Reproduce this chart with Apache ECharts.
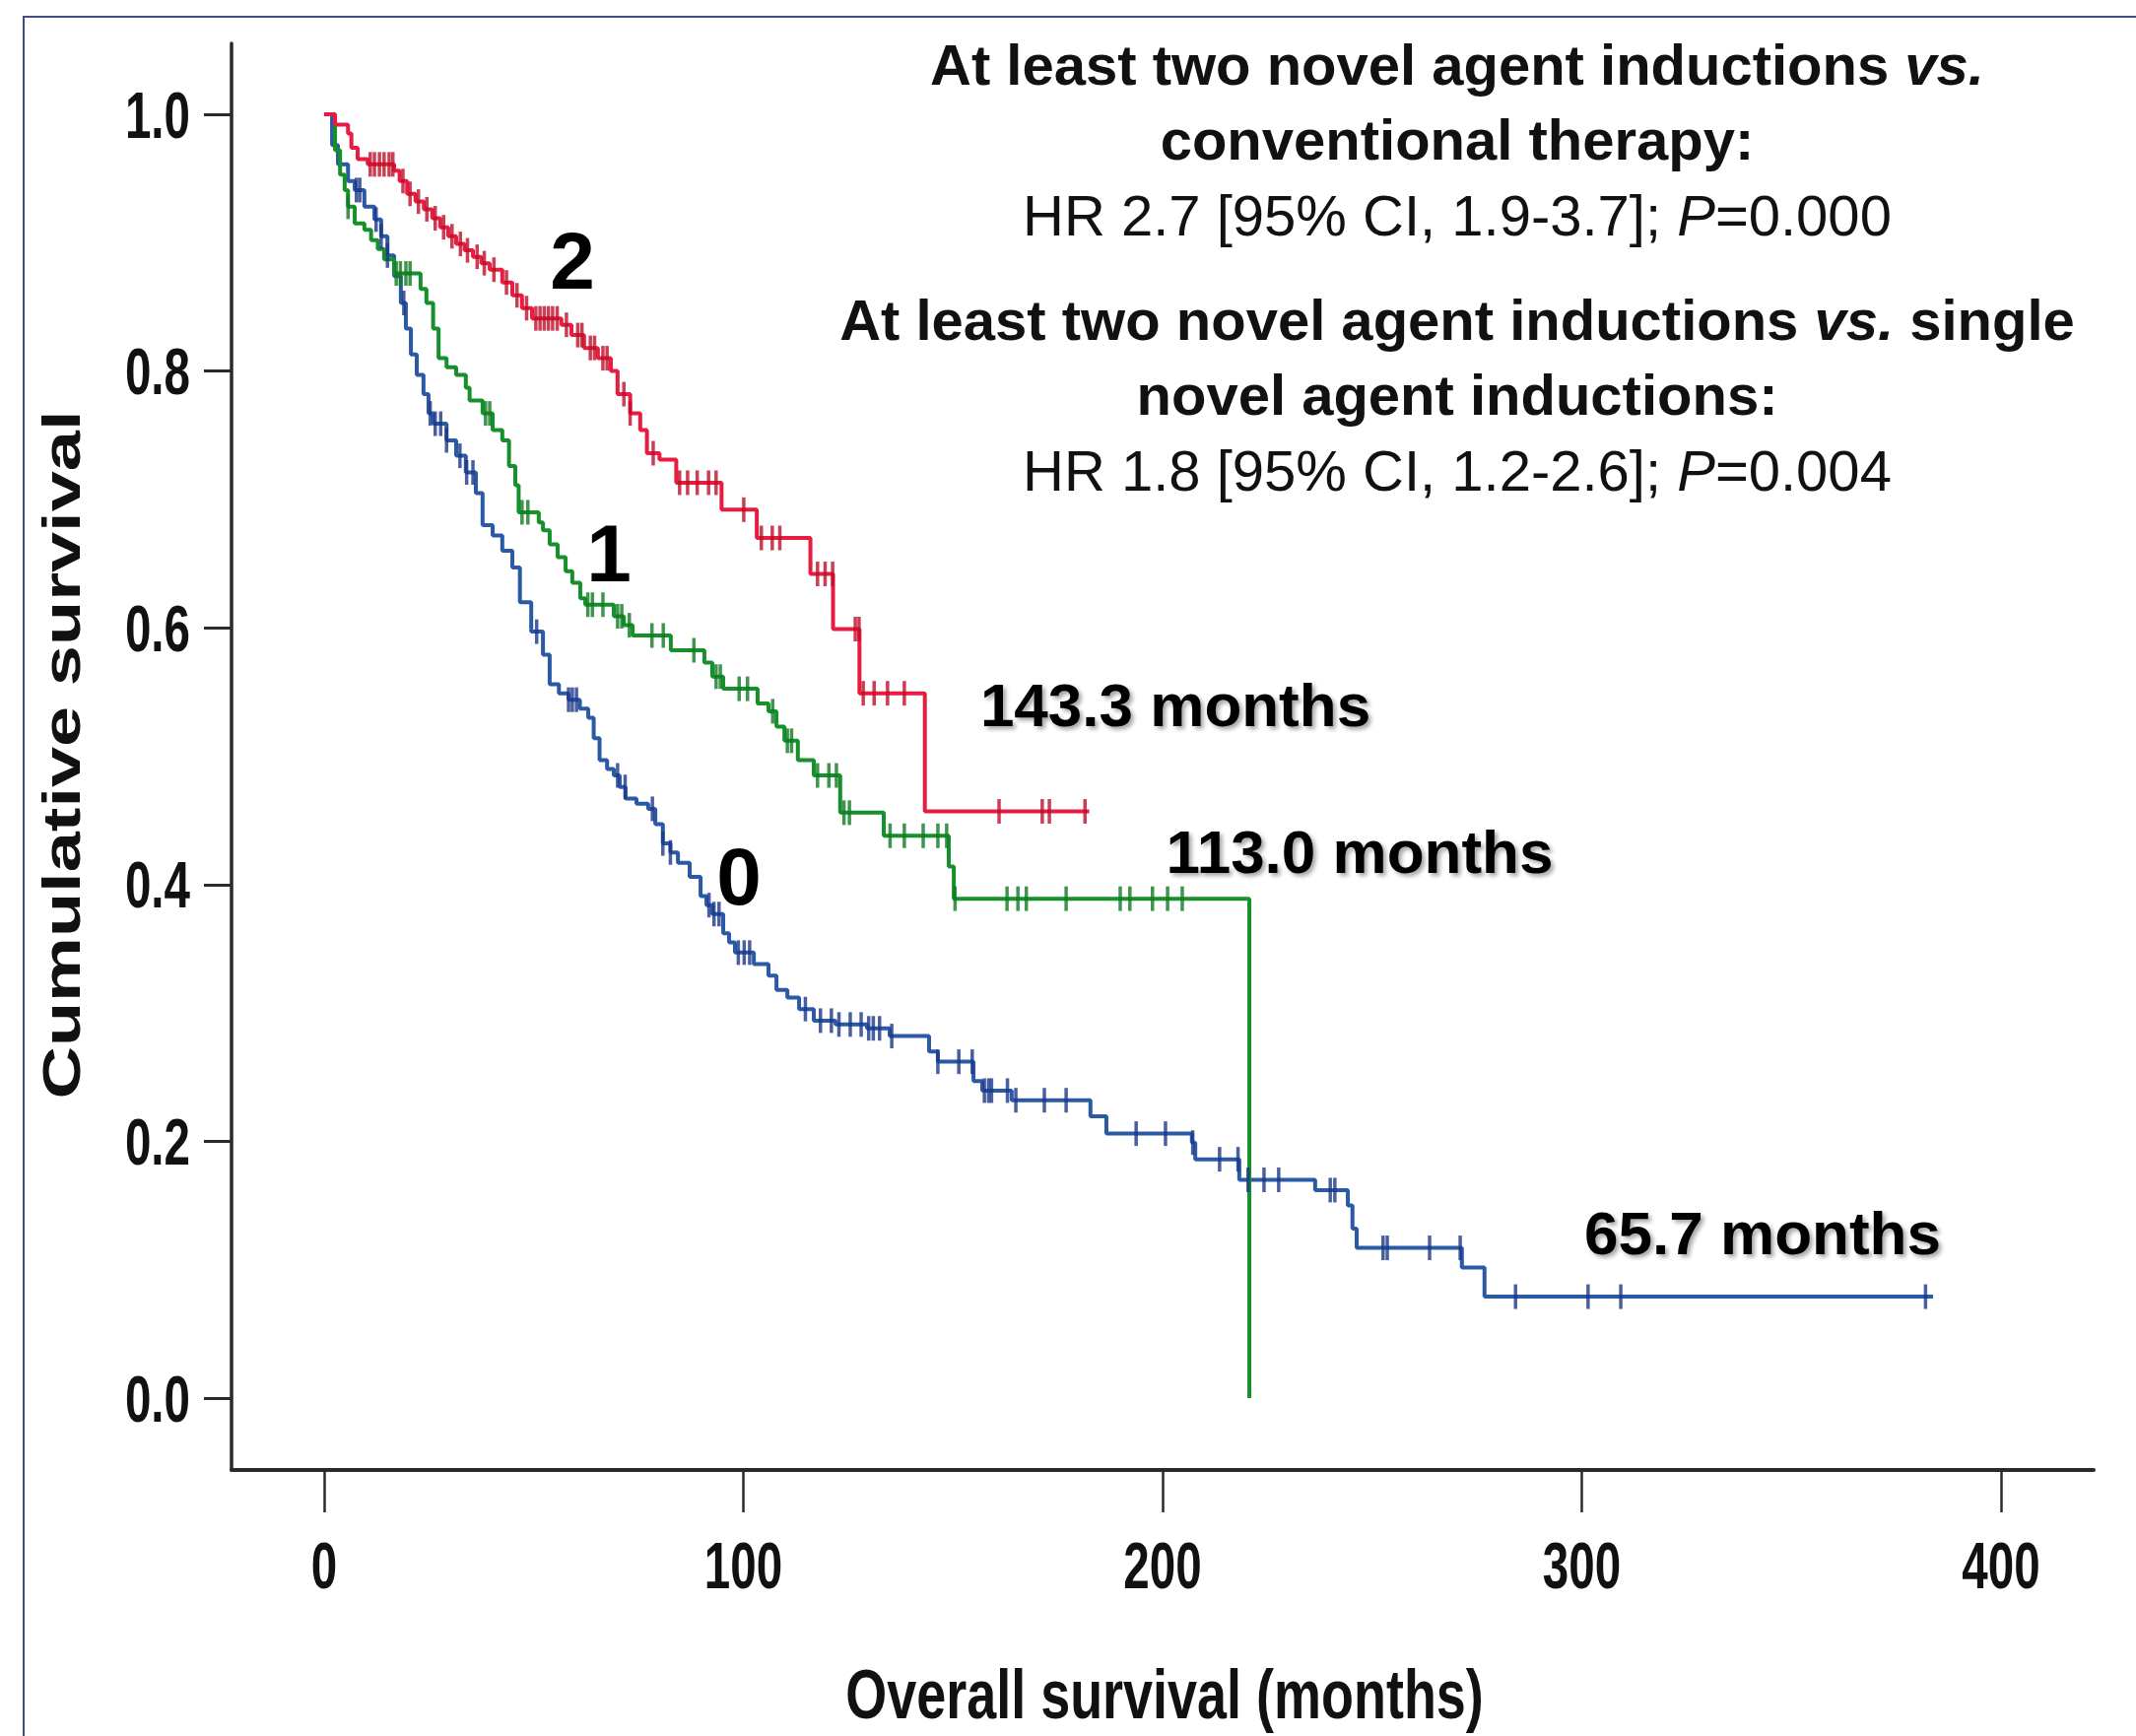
<!DOCTYPE html>
<html>
<head>
<meta charset="utf-8">
<title>Overall survival by novel agent inductions</title>
<script src="https://cdn.jsdelivr.net/npm/echarts@6/dist/echarts.min.js"></script>
<style>
  html, body { margin: 0; padding: 0; background: #ffffff; }
  #chart { width: 2168px; height: 1762px; }
</style>
</head>
<body>
<div id="chart"></div>
<script>
// Kaplan–Meier overall survival, grouped by number of novel agent inductions (0, 1, >=2)

const xTicks = [0, 100, 200, 300, 400];
const xTickLabels = ['0', '100', '200', '300', '400'];
const yTicks = [0, 0.2, 0.4, 0.6, 0.8, 1.0];
const yTickLabels = ['0.0', '0.2', '0.4', '0.6', '0.8', '1.0'];

// Group 0: conventional therapy (event times in months, survival after each step)
const conventionalTimes = [0, 1.9, 3.3, 5.7, 7.3, 9.6, 12.0, 13.6, 15.1, 16.7, 18.3, 19.5, 20.7, 22.1, 23.7, 24.9, 26.0, 29.2, 31.5, 33.8, 36.2, 37.8, 40.2, 42.5, 44.9, 46.7, 49.4, 52.2, 53.8, 56.0, 58.3, 61.0, 63.0, 64.3, 65.7, 67.5, 69.1, 70.5, 71.9, 74.5, 77.3, 79.0, 80.8, 82.6, 84.4, 87.2, 89.8, 91.2, 92.6, 95.2, 96.6, 98.0, 102.5, 106.0, 107.9, 110.5, 113.3, 116.8, 122.0, 129.5, 134.9, 144.3, 146.4, 154.9, 157.0, 164.0, 182.8, 186.6, 207.0, 207.8, 218.3, 236.4, 244.2, 245.3, 246.3, 271.4, 276.8, 383.8];
const conventionalSurv = [1.0, 0.976, 0.961, 0.948, 0.941, 0.928, 0.918, 0.905, 0.890, 0.874, 0.853, 0.833, 0.813, 0.797, 0.782, 0.767, 0.759, 0.746, 0.734, 0.721, 0.705, 0.680, 0.672, 0.660, 0.647, 0.620, 0.597, 0.579, 0.556, 0.549, 0.544, 0.537, 0.530, 0.514, 0.497, 0.490, 0.485, 0.476, 0.467, 0.463, 0.459, 0.447, 0.432, 0.425, 0.417, 0.406, 0.391, 0.384, 0.377, 0.362, 0.355, 0.347, 0.338, 0.329, 0.318, 0.312, 0.303, 0.294, 0.291, 0.288, 0.282, 0.270, 0.262, 0.247, 0.2395, 0.232, 0.2195, 0.206, 0.199, 0.186, 0.170, 0.162, 0.150, 0.132, 0.117, 0.1016, 0.079, 0.079];
const conventionalCensored = [7.7, 8.5, 12.4, 13.6, 15.1, 19.0, 25.3, 26.5, 27.8, 29.2, 32.4, 34.0, 35.5, 50.7, 58.3, 59.2, 60.2, 70.0, 71.8, 78.3, 80.8, 82.6, 91.8, 93.0, 94.2, 98.8, 100.2, 101.5, 114.8, 118.4, 121.0, 122.8, 125.5, 128.1, 129.9, 131.0, 132.5, 135.4, 146.4, 151.4, 154.6, 157.5, 158.5, 159.2, 163.0, 165.0, 171.8, 177.0, 193.7, 200.7, 207.2, 213.6, 218.0, 220.4, 224.2, 227.7, 240.0, 241.1, 252.6, 253.6, 263.7, 271.0, 284.2, 301.5, 309.3, 382.0];

// Group 1: single novel agent induction
const singleTimes = [0, 2.6, 3.8, 4.9, 5.7, 7.3, 9.6, 11.2, 12.8, 14.3, 16.7, 23.0, 24.4, 26.0, 27.3, 29.2, 31.5, 33.8, 34.7, 37.8, 40.2, 42.5, 44.1, 45.6, 46.4, 51.2, 52.2, 53.8, 55.7, 57.6, 59.2, 61.1, 62.3, 69.1, 71.5, 73.6, 82.7, 90.7, 92.6, 95.2, 103.4, 106.0, 107.9, 109.8, 113.0, 116.8, 123.1, 133.5, 149.0, 150.2, 220.7];
const singleSurv = [1.0, 0.972, 0.953, 0.941, 0.928, 0.915, 0.910, 0.902, 0.895, 0.887, 0.876, 0.864, 0.853, 0.833, 0.810, 0.803, 0.797, 0.787, 0.777, 0.767, 0.754, 0.746, 0.726, 0.711, 0.690, 0.682, 0.676, 0.665, 0.655, 0.644, 0.635, 0.623, 0.618, 0.609, 0.602, 0.594, 0.5825, 0.573, 0.562, 0.5525, 0.541, 0.535, 0.523, 0.512, 0.497, 0.485, 0.456, 0.438, 0.414, 0.389, 0.0];
const singleCensored = [5.7, 17.2, 18.2, 19.5, 20.5, 38.5, 39.5, 47.2, 48.6, 62.9, 64.0, 66.5, 70.0, 71.0, 72.8, 78.2, 80.9, 88.2, 93.5, 94.5, 99.0, 101.0, 107.0, 110.5, 111.5, 117.7, 120.4, 122.2, 124.0, 125.3, 135.0, 138.4, 142.9, 146.4, 148.5, 150.5, 162.9, 165.5, 167.5, 177.0, 189.9, 192.2, 197.6, 201.2, 204.7];

// Group 2: at least two novel agent inductions
const twoPlusTimes = [0, 2.6, 5.7, 6.5, 8.0, 10.4, 16.7, 18.0, 19.8, 21.8, 23.8, 25.8, 27.7, 29.6, 31.5, 33.5, 35.5, 37.5, 39.5, 42.5, 44.9, 47.2, 49.6, 56.6, 59.0, 62.0, 65.3, 68.4, 70.0, 73.0, 75.4, 77.0, 80.0, 84.0, 94.8, 103.2, 116.0, 121.4, 127.7, 143.3, 182.5];
const twoPlusSurv = [1.0, 0.992, 0.985, 0.974, 0.965, 0.961, 0.956, 0.948, 0.938, 0.932, 0.926, 0.919, 0.912, 0.905, 0.899, 0.894, 0.889, 0.884, 0.879, 0.869, 0.859, 0.849, 0.841, 0.836, 0.828, 0.818, 0.810, 0.800, 0.782, 0.767, 0.754, 0.736, 0.731, 0.713, 0.692, 0.670, 0.642, 0.599, 0.549, 0.457, 0.457];
const twoPlusCensored = [11.0, 12.0, 13.2, 14.3, 15.5, 16.4, 18.8, 20.5, 22.5, 24.5, 26.5, 28.5, 30.5, 32.5, 34.2, 36.5, 38.2, 40.5, 43.5, 46.0, 48.3, 50.5, 51.5, 52.5, 53.5, 54.5, 55.6, 57.8, 60.5, 61.5, 63.5, 64.5, 66.5, 67.5, 71.5, 73.0, 78.5, 84.8, 86.7, 89.0, 91.7, 93.5, 100.1, 104.3, 106.9, 108.7, 117.7, 119.5, 121.3, 126.7, 127.6, 128.6, 131.2, 134.4, 138.4, 161.0, 171.3, 173.0, 181.5];

const groupLabels = ['0', '1', '2'];
const medianLabels = ['65.7 months', '113.0 months', '143.3 months'];

const FONT = '"Liberation Sans", Arial, Helvetica, sans-serif';
const INK = '#111111';

// survival value of a step curve at time t
function survivalAt(times, surv, t) {
  let s = surv[0];
  for (let i = 0; i < times.length; i++) {
    if (times[i] <= t) s = surv[i]; else break;
  }
  return s;
}

function curve(times, surv, color) {
  return {
    type: 'line',
    step: 'end',
    data: times.map((t, i) => [t, surv[i]]),
    symbol: 'none',
    showSymbol: false,
    silent: true,
    lineStyle: { color: color, width: 4 },
    z: 2
  };
}

function censorMarks(times, surv, censored, color) {
  return {
    type: 'scatter',
    data: censored.map(t => [t, survivalAt(times, surv, t)]),
    symbol: 'rect',
    symbolSize: [3.5, 25],
    silent: true,
    itemStyle: { color: color },
    z: 3
  };
}

const chart = echarts.init(document.getElementById('chart'), null, { renderer: 'svg', width: 2168, height: 1762 });

const option = {
  animation: false,
  backgroundColor: '#ffffff',
  grid: { left: 235, right: 43, top: 44, bottom: 270, containLabel: false },
  xAxis: {
    type: 'value',
    min: -22.09,
    max: 422.1,
    axisLine: { show: true, onZero: false, lineStyle: { color: '#2a2a2a', width: 4 } },
    axisTick: { show: true, customValues: xTicks, length: 43, lineStyle: { color: '#2a2a2a', width: 2.5 } },
    axisLabel: { show: false },
    splitLine: { show: false }
  },
  yAxis: {
    type: 'value',
    min: -0.05602,
    max: 1.05526,
    axisLine: { show: true, onZero: false, lineStyle: { color: '#2a2a2a', width: 3.5 } },
    axisTick: { show: true, customValues: yTicks, length: 28, lineStyle: { color: '#2a2a2a', width: 3 } },
    axisLabel: { show: false },
    splitLine: { show: false }
  },
  series: [
    curve(conventionalTimes, conventionalSurv, '#2a59a6'),
    curve(singleTimes, singleSurv, '#16902b'),
    curve(twoPlusTimes, twoPlusSurv, '#e81c40'),
    censorMarks(conventionalTimes, conventionalSurv, conventionalCensored, '#1b3787'),
    censorMarks(singleTimes, singleSurv, singleCensored, '#0f7a22'),
    censorMarks(twoPlusTimes, twoPlusSurv, twoPlusCensored, '#bd0f28')
  ]
};
chart.setOption(option);

// Axis tick labels and titles are set in a condensed bold face (horizontal squeeze)
const px = v => chart.convertToPixel({ xAxisIndex: 0 }, v);
const py = v => chart.convertToPixel({ yAxisIndex: 0 }, v);
const axisX = px(option.xAxis.min);
const axisY = py(option.yAxis.min);
const tickFont = 'bold 67px ' + FONT;

const gfx = [];

// frame along the left and top edges
gfx.push({
  type: 'polyline',
  shape: { points: [[24, 1762], [24, 17], [2168, 17]] },
  style: { stroke: '#3f5183', lineWidth: 2, fill: null },
  silent: true
});

xTicks.forEach((v, i) => {
  gfx.push({
    type: 'text', x: px(v), y: axisY + 96, scaleX: 0.71,
    style: { text: xTickLabels[i], font: tickFont, fill: INK, textAlign: 'center', textVerticalAlign: 'middle' }
  });
});
yTicks.forEach((v, i) => {
  gfx.push({
    type: 'text', x: axisX - 42, y: py(v), scaleX: 0.71,
    style: { text: yTickLabels[i], font: tickFont, fill: INK, textAlign: 'right', textVerticalAlign: 'middle' }
  });
});

// axis titles
gfx.push({
  type: 'text', x: 1182, y: 1719, scaleX: 0.76,
  style: { text: 'Overall survival (months)', font: 'bold 71px ' + FONT, fill: INK, textAlign: 'center', textVerticalAlign: 'middle' }
});
gfx.push({
  type: 'text', x: 63, y: 766, rotation: Math.PI / 2, scaleY: 0.72,
  style: { text: 'Cumulative survival', font: 'bold 74px ' + FONT, fill: INK, textAlign: 'center', textVerticalAlign: 'middle' }
});

// group numbers beside the curves
const groupPos = [[750, 889], [618, 561], [581, 264]];
groupLabels.forEach((t, i) => {
  gfx.push({
    type: 'text', x: groupPos[i][0], y: groupPos[i][1],
    style: { text: t, font: 'bold 82px ' + FONT, fill: '#000', textAlign: 'center', textVerticalAlign: 'middle' }
  });
});

// median survival labels
const medianPos = [[1789, 1251], [1380, 864], [1193, 715]];
medianLabels.forEach((t, i) => {
  gfx.push({
    type: 'text', x: medianPos[i][0], y: medianPos[i][1],
    style: {
      text: t, font: 'bold 62px ' + FONT, fill: '#000', textAlign: 'center', textVerticalAlign: 'middle',
      textShadowColor: 'rgba(0,0,0,0.35)', textShadowBlur: 4, textShadowOffsetX: 3, textShadowOffsetY: 3
    }
  });
});

// hazard ratio annotations
const richStyles = {
  b: { fontFamily: FONT, fontSize: 58, fontWeight: 'bold', fill: INK },
  bi: { fontFamily: FONT, fontSize: 58, fontWeight: 'bold', fontStyle: 'italic', fill: INK },
  r: { fontFamily: FONT, fontSize: 58, fontWeight: 'normal', fill: INK },
  ri: { fontFamily: FONT, fontSize: 58, fontWeight: 'normal', fontStyle: 'italic', fill: INK }
};
const noteLines = [
  ['{b|At least two novel agent inductions }{bi|vs.}', 65],
  ['{b|conventional therapy:}', 141],
  ['{r|HR 2.7 [95% CI, 1.9-3.7]; }{ri|P}{r|=0.000}', 218],
  ['{b|At least two novel agent inductions }{bi|vs.}{b| single}', 324],
  ['{b|novel agent inductions:}', 400],
  ['{r|HR 1.8 [95% CI, 1.2-2.6]; }{ri|P}{r|=0.004}', 477]
];
noteLines.forEach(([t, y]) => {
  gfx.push({
    type: 'text', x: 1479, y: y,
    style: { text: t, rich: richStyles, textAlign: 'center', textVerticalAlign: 'middle' }
  });
});

chart.setOption({ graphic: { elements: gfx } });
</script>
</body>
</html>
